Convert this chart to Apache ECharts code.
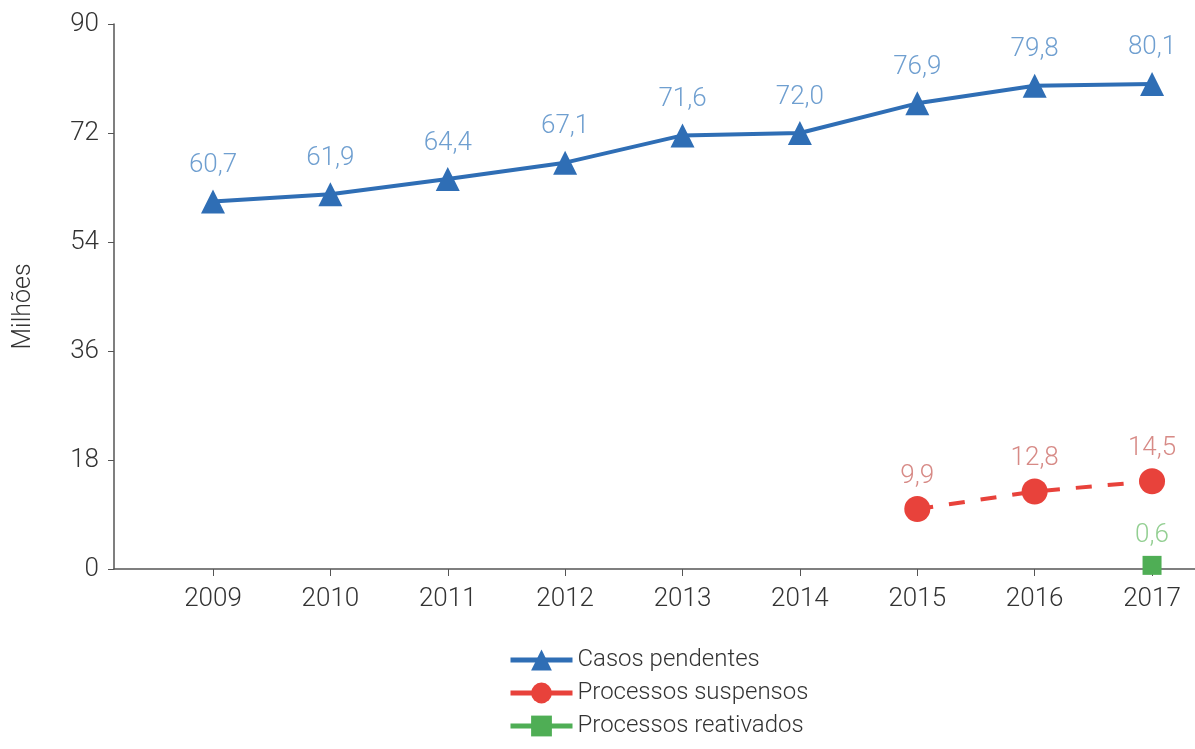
<!DOCTYPE html>
<html><head><meta charset="utf-8">
<script src="https://cdn.jsdelivr.net/npm/echarts@6/dist/echarts.min.js"></script>
<style>html,body{margin:0;padding:0;background:#fff}#c{width:1195px;height:749px}</style>
</head><body><div id="c"></div>
<script>
var years = [2009, 2010, 2011, 2012, 2013, 2014, 2015, 2016, 2017];
var casosPendentes = [60.7, 61.9, 64.4, 67.1, 71.6, 72.0, 76.9, 79.8, 80.1];
var suspYears = [2015, 2016, 2017];
var processosSuspensos = [9.9, 12.8, 14.5];
var reatYears = [2017];
var processosReativados = [0.6];
var yTicks = [0, 18, 36, 54, 72, 90];

function pairs(xs, ys){ return xs.map(function(x,i){ return [x, ys[i]]; }); }
function fmt(p){ return p.value[1].toFixed(1).replace('.', ','); }
var FONT = 'Roboto';
var chart = echarts.init(document.getElementById('c'));
chart.setOption({
  animation: false,
  grid: {left: 114, right: 0, top: 24, bottom: 180, containLabel: false},
  xAxis: {
    type: 'value', min: 2008.1565, max: 2017.366,
    axisLine: {show: true, lineStyle: {color: '#555', width: 1.5}},
    axisTick: {show: true, customValues: years, length: 7, lineStyle: {color: '#555'}},
    axisLabel: {customValues: years, margin: 17, fontFamily: FONT, fontWeight: 300, fontSize: 26, color: '#333', formatter: function(v){ return String(v); }},
    splitLine: {show: false}
  },
  yAxis: {
    type: 'value', min: 0, max: 90, interval: 18,
    name: 'Milhões', nameLocation: 'middle', nameGap: 78, nameRotate: 90,
    nameTextStyle: {fontFamily: FONT, fontWeight: 300, fontSize: 25, color: '#333', padding: [0, 20, 0, 0]},
    axisLine: {show: true, lineStyle: {color: '#555', width: 1.5}},
    axisTick: {show: true, length: 6, lineStyle: {color: '#555'}},
    axisLabel: {margin: 15, fontFamily: FONT, fontWeight: 300, fontSize: 26, color: '#333'},
    splitLine: {show: false}
  },
  legend: {
    orient: 'vertical', left: 503, top: 643, itemGap: 9, itemWidth: 62, itemHeight: 26,
    lineStyle: {width: 5, type: 'solid'},
    textStyle: {fontFamily: FONT, fontWeight: 300, fontSize: 24, color: '#333'},
    data: ['Casos pendentes', 'Processos suspensos', 'Processos reativados']
  },
  series: [
    {name: 'Casos pendentes', type: 'line', data: pairs(years, casosPendentes),
     symbol: 'triangle', symbolSize: 24, color: '#2f6eb5',
     lineStyle: {width: 4, color: '#2f6eb5'},
     label: {show: true, position: 'top', distance: 11, formatter: fmt, fontFamily: FONT, fontWeight: 300, fontSize: 26, color: '#6f9fd0'}},
    {name: 'Processos suspensos', type: 'line', data: pairs(suspYears, processosSuspensos),
     symbol: 'circle', symbolSize: 26, color: '#e8423b',
     lineStyle: {width: 4, type: [16, 16], color: '#e8423b'},
     label: {show: true, position: 'top', distance: 7, formatter: fmt, fontFamily: FONT, fontWeight: 300, fontSize: 26, color: '#d78a86'}},
    {name: 'Processos reativados', type: 'line', data: pairs(reatYears, processosReativados),
     symbol: 'rect', symbolSize: 19, color: '#4fae55',
     lineStyle: {width: 4, type: 'dashed', color: '#4fae55'},
     label: {show: true, position: 'top', distance: 7, formatter: fmt, fontFamily: FONT, fontWeight: 300, fontSize: 26, color: '#93cf92'}}
  ]
});
</script></body></html>
